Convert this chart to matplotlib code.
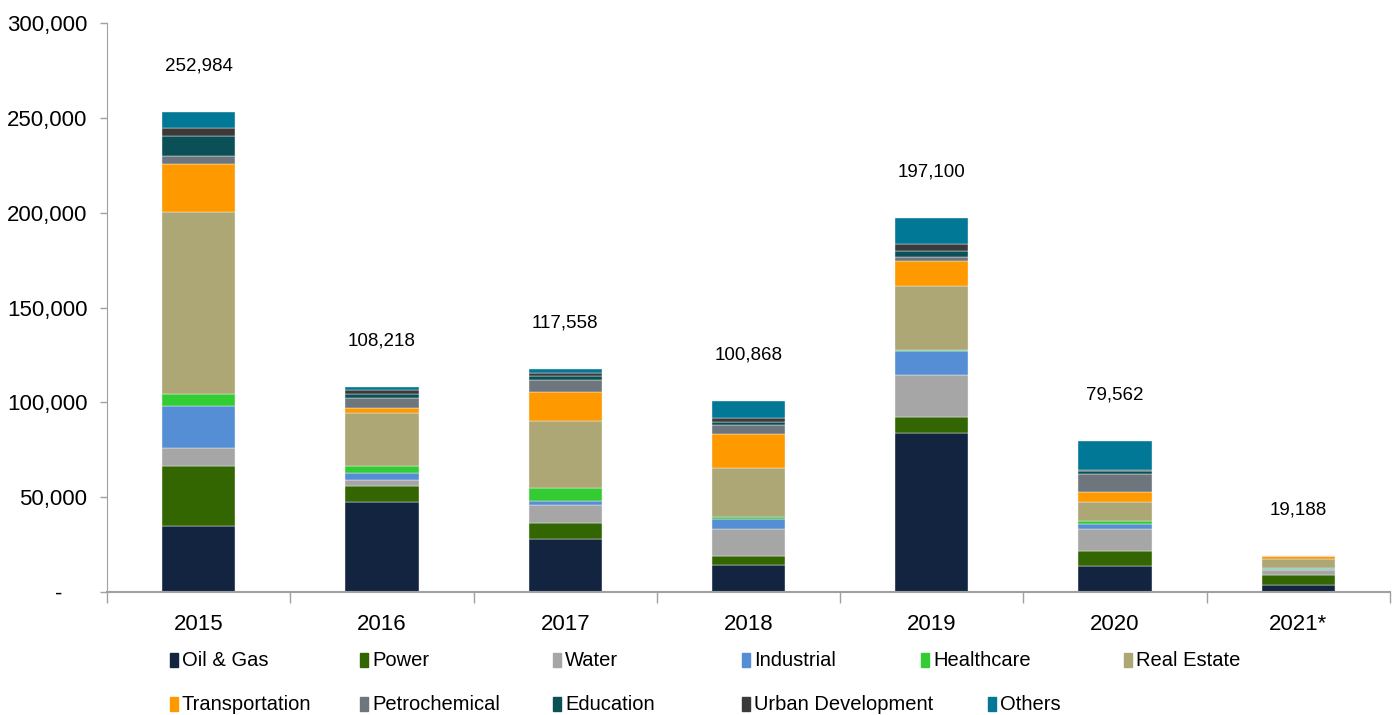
import matplotlib
matplotlib.use("Agg")
import matplotlib.pyplot as plt
import numpy as np
from matplotlib.patches import Rectangle
from matplotlib.ticker import FuncFormatter, FixedLocator

plt.rcParams['font.family'] = ['Liberation Sans', 'DejaVu Sans']

years = ['2015', '2016', '2017', '2018', '2019', '2020', '2021*']
totals = [252984, 108218, 117558, 100868, 197100, 79562, 19188]

sectors = ['Oil & Gas', 'Power', 'Water', 'Industrial', 'Healthcare', 'Real Estate',
           'Transportation', 'Petrochemical', 'Education', 'Urban Development', 'Others']
colors = ['#12243f', '#336600', '#a6a6a6', '#558ed5', '#33cc33', '#ada776',
          '#ff9900', '#6e767d', '#0b4f57', '#3a3a3a', '#007896']

# values per sector, in the order of years
oil_gas = [34600, 47200, 27700, 14000, 84100, 13900, 3800]
power = [31600, 8800, 8600, 4900, 8000, 7900, 5300]
water = [9600, 2800, 9500, 14100, 22300, 11400, 2500]
industrial = [22500, 4000, 2300, 5600, 12800, 2400, 300]
healthcare = [6100, 3400, 6600, 1200, 300, 1900, 900]
real_estate = [96000, 28200, 35300, 25500, 33700, 10200, 4400]
transportation = [25400, 2600, 15400, 17900, 13200, 5100, 1988]
petrochemical = [4000, 5100, 6500, 4700, 2400, 9500, 0]
education = [10400, 2500, 1900, 1900, 3200, 1500, 0]
urban_dev = [4700, 1700, 1800, 2100, 3300, 600, 0]
others = [8084, 1918, 1958, 8968, 13800, 15162, 0]

series = [oil_gas, power, water, industrial, healthcare, real_estate,
          transportation, petrochemical, education, urban_dev, others]

fig = plt.figure(figsize=(13.98, 7.15), dpi=100)
ax = fig.add_axes([0.0765, 0.172, 0.9178, 0.7958])

x = np.arange(len(years))
bottom = np.zeros(len(years))
for name, vals, c in zip(sectors, series, colors):
    vals = np.array(vals, dtype=float)
    ax.bar(x, vals, width=0.4, bottom=bottom, color=c, edgecolor='#f4f4f4',
           linewidth=0.3, label=name)
    bottom += vals

for xi, top, t in zip(x, bottom, totals):
    ax.annotate(f'{t:,}', (xi, top), xytext=(0, 33), textcoords='offset points',
                ha='center', va='center', fontsize=13.5)


def fmt_y(v, pos):
    # accounting style: zero shown as a dash, set in from the right
    if v == 0:
        return '-\u2007\u2007'
    return f'{int(v):,}'


ax.set_xlim(-0.5, len(years) - 0.5)
ax.set_ylim(0, 300000)
ax.yaxis.set_major_locator(FixedLocator(np.arange(0, 300001, 50000)))
ax.yaxis.set_major_formatter(FuncFormatter(fmt_y))

ax.set_xticks(x)
ax.set_xticklabels(years)
ax.set_xticks(np.arange(-0.5, len(years), 1.0), minor=True)
ax.tick_params(axis='x', which='major', length=0, labelsize=16, pad=16)
ax.tick_params(axis='x', which='minor', length=8, color='#a0a0a0', width=1)
ax.tick_params(axis='y', length=5, color='#a0a0a0', width=1, labelsize=16, pad=9)

for s in ['top', 'right']:
    ax.spines[s].set_visible(False)
ax.spines['left'].set_color('#a0a0a0')
ax.spines['bottom'].set_color('#a0a0a0')
ax.spines['bottom'].set_linewidth(1.5)

# legend laid out on a fixed column grid, two rows
col_x = [170, 360, 553, 742, 921, 1124]
row_y = [660, 704]
slots = [(0, i) for i in range(6)] + [(1, i) for i in range(4)]
W, H = 1398.0, 715.0
for k, (name, c) in enumerate(zip(sectors, colors)):
    if k < 10:
        r, ci = slots[k]
        px = col_x[ci]
    else:
        r, px = 1, 988
    py = row_y[r]
    fig.patches.append(Rectangle((px / W, (H - py - 7) / H), 8 / W, 14 / H,
                                 transform=fig.transFigure, color=c))
    fig.text((px + 12) / W, (H - py) / H, name, fontsize=14.5, va='center', ha='left')

fig.savefig('out.png', dpi=100)
